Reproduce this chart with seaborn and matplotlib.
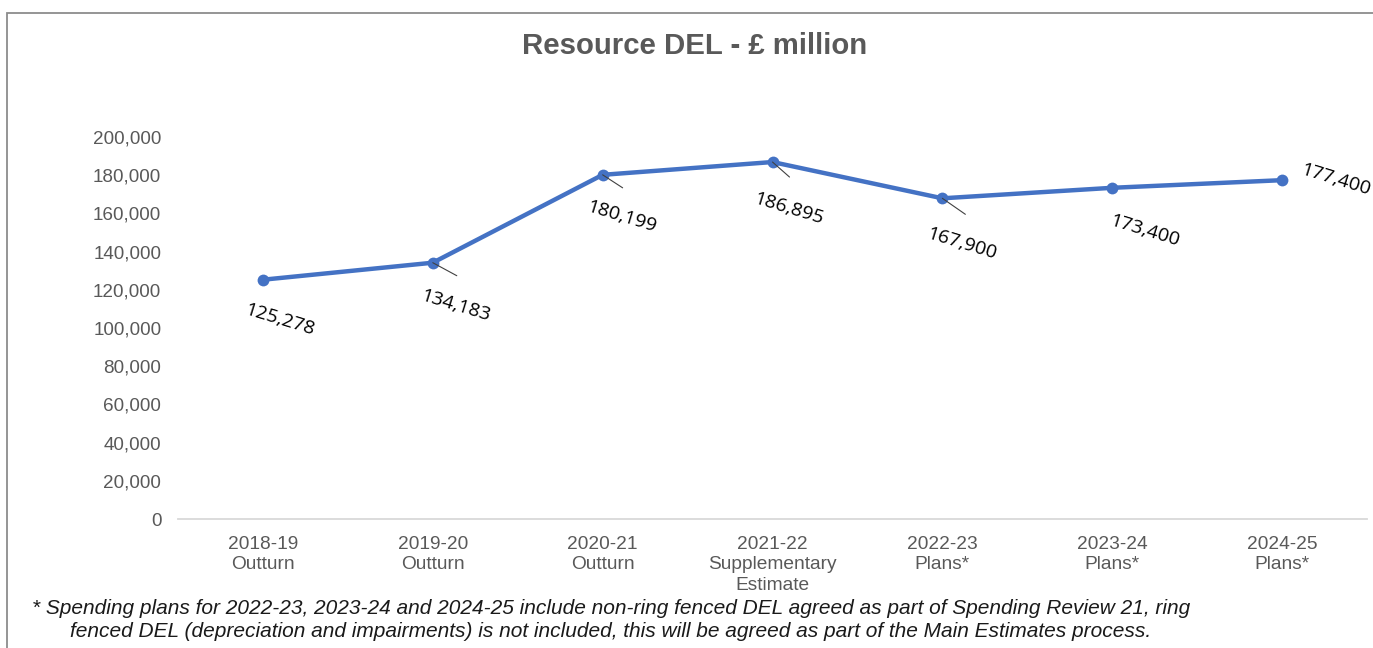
import matplotlib
matplotlib.use("Agg")
import matplotlib.pyplot as plt
from matplotlib.patches import Rectangle
import seaborn as sns
import pandas as pd

# ---- data ----
categories = ["2018-19\nOutturn", "2019-20\nOutturn", "2020-21\nOutturn",
              "2021-22\nSupplementary\nEstimate", "2022-23\nPlans*",
              "2023-24\nPlans*", "2024-25\nPlans*"]
values = [125278, 134183, 180199, 186895, 167900, 173400, 177400]
ytick_values = [0, 20000, 40000, 60000, 80000, 100000, 120000, 140000,
                160000, 180000, 200000]
title = "Resource DEL - £ million"
footnote = ("* Spending plans for 2022-23, 2023-24 and 2024-25 include non-ring fenced DEL agreed as part of Spending Review 21, ring\n"
            "fenced DEL (depreciation and impairments) is not included, this will be agreed as part of the Main Estimates process.")

# ---- layout (pixel offsets of labels / leaders) ----
label_offsets = [(17, -40), (23, -43), (19, -42), (16, -47), (19, -46), (32, -43), (54, 0)]
leader_offsets = [None, (24, -13), (20, -13), (17, -15), (23, -16), None, None]

sns.set_theme(style="white")
plt.rcParams["font.family"] = ["Liberation Sans", "DejaVu Sans"]

fig = plt.figure(figsize=(13.73, 6.48), dpi=100)
ax = fig.add_axes([178 / 1373, 1 - 519 / 648, (1367 - 178) / 1373, (519 - 137) / 648])

df = pd.DataFrame({"x": list(range(len(categories))), "y": values})
blue = "#4472C4"
sns.lineplot(data=df, x="x", y="y", ax=ax, color=blue, linewidth=3.2,
             marker="o", markersize=8.5, markeredgewidth=0, markeredgecolor=blue)

ax.set_xlim(-0.5, len(categories) - 0.5)
ax.set_ylim(0, 200000)
ax.set_xticks(range(len(categories)))
ax.set_xticklabels(categories, fontsize=13.8, color="#595959", linespacing=1.28)
ax.set_yticks(ytick_values)
ax.set_yticklabels([f"{v:,}" for v in ytick_values], fontsize=13.6, color="#595959")
ax.tick_params(axis="y", length=0, pad=12)
ax.tick_params(axis="x", length=0, pad=12)
ax.set_xlabel("")
ax.set_ylabel("")
for s in ["top", "right", "left"]:
    ax.spines[s].set_visible(False)
ax.spines["bottom"].set_color("#d9d9d9")
ax.spines["bottom"].set_linewidth(1.3)
ax.grid(False)

for i, v in enumerate(values):
    dx, dy = label_offsets[i]
    ax.annotate(f"{v:,}", xy=(i, v), xytext=(dx, dy), textcoords="offset pixels",
                ha="center", va="center", rotation=-17, fontsize=14,
                family=["Open Sans", "DejaVu Sans"], color="#000000")
    if leader_offsets[i] is not None:
        lx, ly = leader_offsets[i]
        ax.annotate("", xy=(i, v), xytext=(lx, ly), textcoords="offset pixels",
                    arrowprops=dict(arrowstyle="-", color="#404040", lw=0.8,
                                    shrinkA=0, shrinkB=0))

fig.text(695 / 1373, 1 - 46 / 648, title, ha="center", va="center",
         fontsize=21.2, fontweight="bold", color="#595959")

fig.text(611 / 1373, 1 - 620 / 648, footnote, ha="center", va="center",
         fontsize=15, style="italic", color="#1a1a1a", linespacing=1.33,
         multialignment="center")

fig.patches.append(Rectangle((7 / 1373, -0.05), 1.2, 0.05 + 1 - 13 / 648,
                             transform=fig.transFigure, fill=False,
                             edgecolor="#8c8c8c", linewidth=1.3))

fig.savefig("out.png", dpi=100, facecolor="white")
